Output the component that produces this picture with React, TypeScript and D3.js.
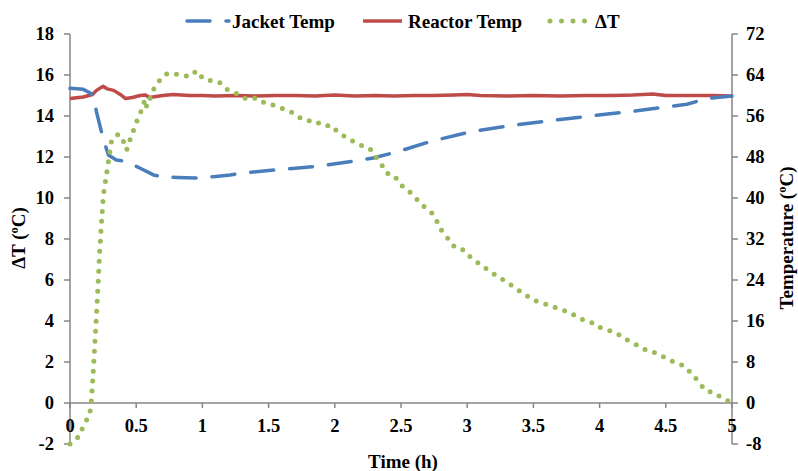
import React from "react";
import * as d3 from "d3";

// ---------- data ----------
const jacketTime = [0, 0.1, 0.16, 0.18, 0.2, 0.25, 0.29, 0.35, 0.43, 0.53, 0.63, 0.7, 0.81, 0.95, 1.1, 1.21, 1.28, 1.56, 1.87, 2.17, 2.29, 2.47, 2.72, 3.02, 3.32, 3.63, 3.93, 4.21, 4.51, 4.66, 4.81, 5.0];
const jacketTemp = [61.4, 61.2, 60.4, 59.5, 56.8, 51.6, 48.4, 47.4, 47.1, 45.8, 44.5, 44.1, 44.0, 43.9, 44.2, 44.5, 44.8, 45.5, 46.2, 47.3, 47.8, 49.0, 51.0, 52.9, 54.1, 55.1, 56.0, 56.8, 57.8, 58.3, 59.4, 59.9];

const reactorTime = [0, 0.1, 0.17, 0.2, 0.25, 0.28, 0.33, 0.38, 0.42, 0.47, 0.53, 0.57, 0.6, 0.65, 0.7, 0.78, 0.9, 1.0, 1.1, 1.25, 1.4, 1.55, 1.7, 1.85, 2.0, 2.15, 2.3, 2.45, 2.6, 2.75, 2.9, 3.0, 3.1, 3.3, 3.5, 3.7, 3.9, 4.1, 4.25, 4.4, 4.5, 4.7, 4.85, 5.0];
const reactorTemp = [59.4, 59.7, 60.2, 61.0, 61.8, 61.3, 61.0, 60.2, 59.4, 59.6, 60.0, 60.1, 59.6, 59.8, 60.0, 60.2, 60.0, 60.0, 59.9, 60.0, 59.9, 60.0, 60.0, 59.9, 60.1, 59.9, 60.0, 59.9, 60.0, 60.0, 60.1, 60.2, 60.0, 59.9, 60.0, 59.9, 60.0, 60.0, 60.1, 60.3, 60.0, 60.0, 60.0, 59.9];

const deltaTime = [0, 0.076, 0.1, 0.146, 0.159, 0.17, 0.185, 0.2, 0.21, 0.225, 0.24, 0.252, 0.277, 0.302, 0.315, 0.34, 0.365, 0.4, 0.428, 0.453, 0.508, 0.541, 0.566, 0.579, 0.597, 0.624, 0.667, 0.725, 0.775, 0.831, 0.901, 0.957, 1.007, 1.07, 1.128, 1.183, 1.254, 1.32, 1.385, 1.44, 1.478, 1.53, 1.599, 1.662, 1.72, 1.782, 1.85, 1.908, 1.976, 2.02, 2.077, 2.135, 2.21, 2.266, 2.309, 2.349, 2.387, 2.45, 2.5, 2.563, 2.618, 2.669, 2.732, 2.774, 2.812, 2.865, 2.908, 2.963, 3.011, 3.1, 3.2, 3.3, 3.4, 3.5, 3.575, 3.638, 3.7, 3.763, 3.83, 3.9, 3.965, 4.003, 4.066, 4.141, 4.21, 4.26, 4.323, 4.38, 4.426, 4.489, 4.562, 4.635, 4.693, 4.748, 4.796, 4.872, 4.934, 4.97];
const deltaT = [-2.0, -1.58, -1.09, -0.63, -0.11, 0.9, 2.6, 4.3, 5.5, 7.5, 9.0, 10.15, 11.2, 12.31, 12.83, 12.96, 13.12, 12.83, 12.34, 12.83, 13.8, 14.29, 14.81, 14.45, 14.7, 15.23, 15.67, 16.05, 16.08, 16.0, 15.92, 16.2, 15.8, 15.72, 15.64, 15.3, 15.11, 14.86, 14.91, 14.67, 14.67, 14.54, 14.37, 14.24, 13.97, 13.77, 13.77, 13.53, 13.53, 13.23, 12.99, 12.78, 12.54, 12.4, 12.02, 11.69, 11.23, 11.09, 10.63, 10.31, 9.95, 9.61, 9.28, 8.83, 8.34, 7.95, 7.58, 7.5, 7.19, 6.75, 6.3, 5.9, 5.45, 5.02, 4.86, 4.73, 4.57, 4.45, 4.21, 3.97, 3.89, 3.69, 3.56, 3.35, 3.07, 2.91, 2.67, 2.5, 2.45, 2.23, 2.0, 1.82, 1.45, 1.04, 0.63, 0.47, 0.2, 0.1];

const xTicks = [0, 0.5, 1, 1.5, 2, 2.5, 3, 3.5, 4, 4.5, 5];
const leftTicks = [-2, 0, 2, 4, 6, 8, 10, 12, 14, 16, 18];
const rightTicks = [-8, 0, 8, 16, 24, 32, 40, 48, 56, 64, 72];

const seriesNames = ["Jacket Temp", "Reactor Temp", "\u0394T"];

// ---------- layout ----------
const W = 798, H = 471;
const X0 = 70, X1 = 732, Y0 = 444, Y1 = 34;
const AXIS = "#868686";
const BLUE = "#4a7ebb", RED = "#be4b48", GREEN = "#9bbb59";
const FONT = "'Liberation Serif', 'Times New Roman', serif";

export default function App() {
  const x = d3.scaleLinear().domain([0, 5]).range([X0, X1]);
  const yL = d3.scaleLinear().domain([-2, 18]).range([Y0, Y1]);
  const yR = d3.scaleLinear().domain([-8, 72]).range([Y0, Y1]);

  const jacket = jacketTime.map((t, i) => [t, jacketTemp[i]] as [number, number]);
  const reactor = reactorTime.map((t, i) => [t, reactorTemp[i]] as [number, number]);
  const delta = deltaTime.map((t, i) => [t, deltaT[i]] as [number, number]);

  const lineR = d3.line<[number, number]>().x((d) => x(d[0])).y((d) => yR(d[1]));
  const lineL = d3.line<[number, number]>().x((d) => x(d[0])).y((d) => yL(d[1]));

  const y0 = yL(0);
  const legendY = 21;

  return (
    <svg width={W} height={H} style={{ position: "absolute", left: 0, top: 0, background: "#fff" }} fontFamily={FONT}>
      {/* axes */}
      <line x1={X0} x2={X0} y1={Y1} y2={Y0} stroke={AXIS} strokeWidth={1.5} />
      <line x1={X1} x2={X1} y1={Y1} y2={Y0} stroke={AXIS} strokeWidth={1.5} />
      <line x1={X0} x2={X1} y1={y0} y2={y0} stroke={AXIS} strokeWidth={1.5} />
      {leftTicks.map((v) => (
        <g key={"l" + v}>
          <line x1={X0 - 6} x2={X0} y1={yL(v)} y2={yL(v)} stroke={AXIS} strokeWidth={1.5} />
          <text x={54} y={yL(v)} dy="0.35em" textAnchor="end" fontSize={18.5} fontWeight="bold">{v}</text>
        </g>
      ))}
      {rightTicks.map((v) => (
        <g key={"r" + v}>
          <line x1={X1} x2={X1 + 6} y1={yR(v)} y2={yR(v)} stroke={AXIS} strokeWidth={1.5} />
          <text x={746} y={yR(v)} dy="0.35em" textAnchor="start" fontSize={18.5} fontWeight="bold">{v}</text>
        </g>
      ))}
      {xTicks.map((v) => (
        <g key={"x" + v}>
          <line x1={x(v)} x2={x(v)} y1={y0} y2={y0 + 5} stroke={AXIS} strokeWidth={1.5} />
          <text x={x(v)} y={426} dy="0.35em" textAnchor="middle" fontSize={18.5} fontWeight="bold">{v}</text>
        </g>
      ))}

      {/* axis titles */}
      <text x={403} y={468} textAnchor="middle" fontSize={19} fontWeight="bold">Time (h)</text>
      <text transform={`translate(25,238) rotate(-90)`} textAnchor="middle" fontSize={19} fontWeight="bold">{"\u0394T (\u00baC)"}</text>
      <text transform={`translate(793,238) rotate(-90)`} textAnchor="middle" fontSize={19} fontWeight="bold">{"Temperature (\u00baC)"}</text>

      {/* series */}
      <path d={lineR(reactor) || ""} fill="none" stroke={RED} strokeWidth={3.5} strokeLinejoin="round" />
      <path d={lineR(jacket) || ""} fill="none" stroke={BLUE} strokeWidth={3.5} strokeDasharray="23 16" strokeLinecap="round" strokeLinejoin="round" />
      <path d={lineL(delta) || ""} fill="none" stroke={GREEN} strokeWidth={5} strokeDasharray="0 10" strokeLinecap="round" />

      {/* legend */}
      <line x1={187} x2={229} y1={legendY} y2={legendY} stroke={BLUE} strokeWidth={3.5} strokeDasharray="23 16" strokeLinecap="round" />
      <text x={232} y={legendY} dy="0.35em" fontSize={19} fontWeight="bold">{seriesNames[0]}</text>
      <line x1={363} x2={402} y1={legendY} y2={legendY} stroke={RED} strokeWidth={3.5} />
      <text x={408} y={legendY} dy="0.35em" fontSize={19} fontWeight="bold">{seriesNames[1]}</text>
      <line x1={550} x2={585} y1={legendY} y2={legendY} stroke={GREEN} strokeWidth={5} strokeDasharray="0 11.5" strokeLinecap="round" />
      <text x={595} y={legendY} dy="0.35em" fontSize={19} fontWeight="bold">{seriesNames[2]}</text>
    </svg>
  );
}
